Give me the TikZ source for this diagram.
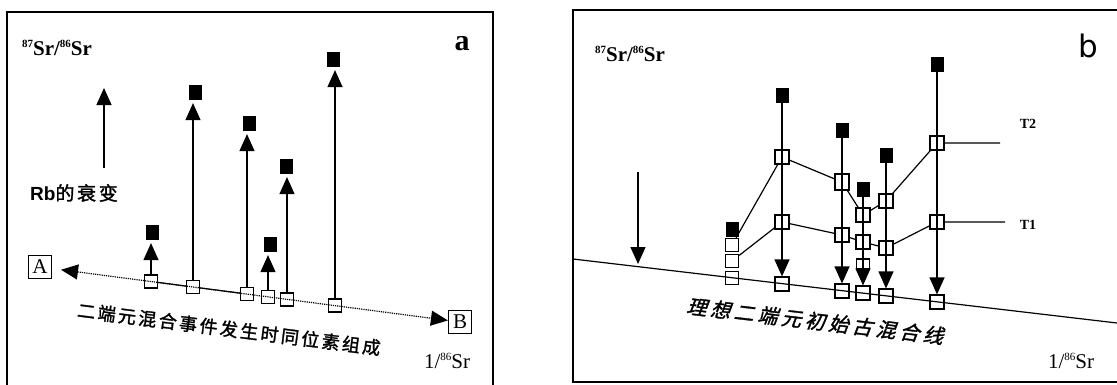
\documentclass[tikz,border=0pt]{standalone}
\usepackage{fontspec}
\setmainfont{Liberation Serif}
\newfontfamily\cjk{Noto Sans CJK SC}[FakeBold=1.6,LetterSpace=14]
\newfontfamily\cjkit{Noto Sans CJK SC}[FakeSlant=0.25,FakeBold=1.6,LetterSpace=19]
\newfontfamily\rbfont{Liberation Sans}
\newfontfamily\gothic{DejaVu Sans}
\usetikzlibrary{arrows.meta}
\newcommand\isot[1]{\raisebox{0.8ex}{\fontsize{11}{11}\selectfont #1}}
\begin{document}
\begin{tikzpicture}[x=1pt,y=-1pt,line width=1.2pt,
		sq/.style={draw,minimum width=13pt,minimum height=13pt,inner sep=0pt},
		bsq/.style={draw,minimum width=14pt,minimum height=14pt,inner sep=0pt},
		fsq/.style={fill=black,minimum width=13pt,minimum height=15pt,inner sep=0pt},
		decay/.style={-{Triangle[length=17pt,width=15pt]},shorten >=3pt},
		ebox/.style={draw,inner sep=3.5pt,minimum size=23pt,font=\fontsize{21}{21}\selectfont},
		axis/.style={font=\bfseries\fontsize{21}{21}\selectfont},
		tl/.style={font=\bfseries\fontsize{14}{14}\selectfont}]
	\useasboundingbox (0,0) rectangle (1117,384);
	
	% panel a
	\draw[line width=1.5pt] (7,12) rectangle (493,392);
	\node[axis] (ya) at (57,48) {\isot{87}Sr/\isot{86}Sr};
	\node[font=\bfseries\fontsize{30}{30}\selectfont] (pa) at (462,44) {a};
	\node[axis,font=\fontsize{21}{21}\selectfont] (xa) at (447,361) {1/\isot{86}Sr};
	
	\coordinate (rb0) at (104,168);
	\coordinate (rb1) at (104,88);
	\draw[decay,shorten >=0pt] (rb0) -- (rb1);
	\node (rb) at (74,193) {\fontsize{19}{19}\selectfont{\rbfont\bfseries Rb}{\cjk 的衰变}};
	
	\node[ebox] (A) at (40,267) {A};
	\node[ebox] (B) at (460,322) {B};
	\draw[densely dotted,{Triangle[length=17pt,width=15pt]}-{Triangle[length=17pt,width=15pt]},shorten <=9pt] (A) -- (B);
	
	\node[sq] (oa1) at (151,281.5) {};
	\node[sq] (oa2) at (193,287) {};
	\node[sq] (oa3) at (247,294) {};
	\node[sq] (oa4) at (268,297) {};
	\node[sq] (oa5) at (287,299.5) {};
	\node[sq] (oa6) at (335,305.5) {};
	\draw (oa1) -- (oa2) -- (oa3);
	
	\node[fsq] (fa1) at (152,232) {};
	\node[fsq] (fa2) at (195,92) {};
	\node[fsq] (fa3) at (249,123) {};
	\node[fsq] (fa4) at (270,244) {};
	\node[fsq] (fa5) at (286,166) {};
	\node[fsq] (fa6) at (333,59) {};
	\draw[decay] (oa1) -- (oa1 |- fa1.south);
	\draw[decay] (oa2) -- (oa2 |- fa2.south);
	\draw[decay] (oa3) -- (oa3 |- fa3.south);
	\draw[decay] (oa4) -- (oa4 |- fa4.south);
	\draw[decay] (oa5) -- (oa5 |- fa5.south);
	\draw[decay] (oa6) -- (oa6 |- fa6.south);
	
	\node[rotate=-7.2] (ma) at (229,329) {\fontsize{18}{18}\selectfont\cjk 二端元混合事件发生时同位素组成};
	
	% panel b
	\draw[line width=1.5pt] (573,10) rectangle (1125,382);
	\node[axis] (yb) at (630,54) {\isot{87}Sr/\isot{86}Sr};
	\node[font=\gothic\fontsize{31}{31}\selectfont] (pb) at (1088,46) {b};
	\node[axis,font=\fontsize{21}{21}\selectfont] (xb) at (1071,361) {1/\isot{86}Sr};
	
	\coordinate (m0) at (573,259);
	\coordinate (m1) at (1117,323);
	\draw (m0) -- (m1);
	\coordinate (k0) at (638,172);
	\coordinate (k1) at (638,264);
	\draw[decay,shorten >=0pt] (k0) -- (k1);
	
	\node[fsq] (f1) at (732,229) {};
	\node[sq] (u1) at (732,245) {};
	\node[sq] (l1) at (732,261) {};
	\node[sq] (b1) at (732,278) {};
	
	\node[fsq] (f2) at (782,95) {};
	\node[bsq] (u2) at (782,157) {};
	\node[bsq] (l2) at (782,222) {};
	\node[bsq] (b2) at (782,284) {};
	
	\node[fsq] (f3) at (842,130) {};
	\node[bsq,minimum height=16pt] (u3) at (842,182) {};
	\node[bsq] (l3) at (842,235) {};
	\node[bsq] (b3) at (842,291) {};
	
	\node[fsq] (f4) at (863,189) {};
	\node[bsq] (u4) at (863,215) {};
	\node[bsq] (l4) at (863,242) {};
	\node[sq,minimum height=10pt] (s4) at (863,264) {};
	\node[bsq] (b4) at (863,293) {};
	
	\node[fsq] (f5) at (886,155) {};
	\node[bsq] (u5) at (886,201) {};
	\node[bsq] (l5) at (886,248) {};
	\node[bsq] (b5) at (886,296) {};
	
	\node[fsq] (f6) at (937,64) {};
	\node[bsq] (u6) at (937,143) {};
	\node[bsq] (l6) at (937,222) {};
	\node[bsq] (b6) at (937,302) {};
	
	\draw[decay,shorten >=0pt] (f2) -- (b2);
	\draw[decay,shorten >=0pt] (f3) -- (b3);
	\draw[decay,shorten >=0pt] (f4) -- (b4);
	\draw[decay,shorten >=0pt] (f5) -- (b5);
	\draw[decay,shorten >=0pt] (f6) -- (b6);
	
	\coordinate (t2e) at (1000,143);
	\coordinate (t1e) at (1005,222);
	\draw (u1) -- (u2) -- (u3) -- (u4) -- (u5) -- (u6) -- (t2e);
	\draw (l1) -- (l2) -- (l3) -- (l4) -- (l5) -- (l6) -- (t1e);
	\node[tl] (t2) at (1028,124) {T2};
	\node[tl] (t1) at (1028,225) {T1};
	
	\node[rotate=-6.8] (mb) at (815,321) {\fontsize{20}{20}\selectfont\cjkit 理想二端元初始古混合线};
\end{tikzpicture}
\end{document}
